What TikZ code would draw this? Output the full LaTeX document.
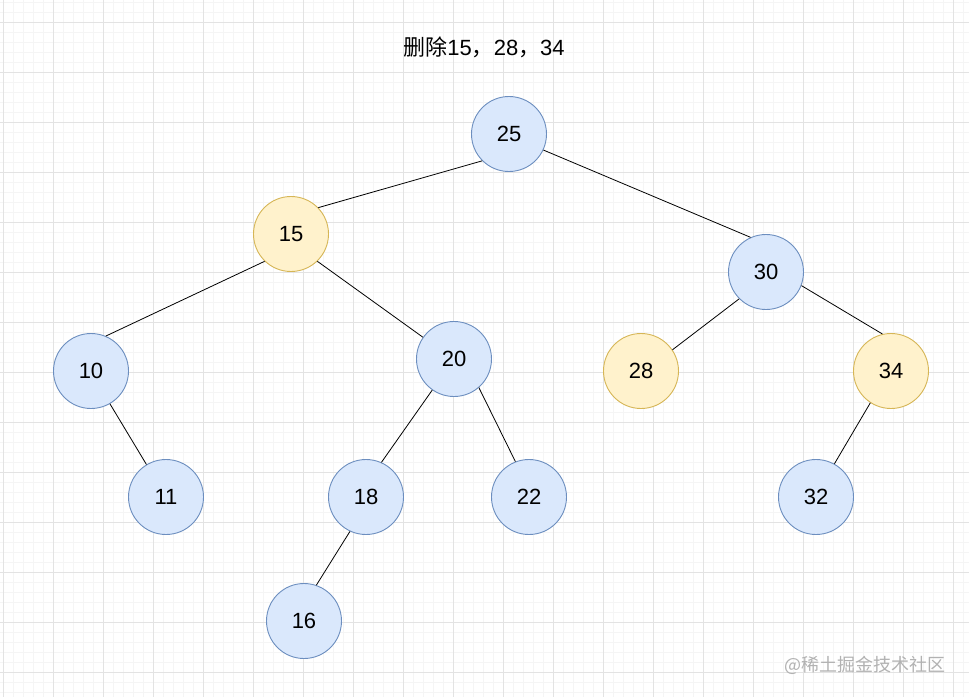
\documentclass[tikz,border=0pt]{standalone}
\usepackage{fontspec}
\setmainfont{Liberation Sans}
\newfontfamily\cjk{Noto Sans CJK SC}
\definecolor{bluefill}{HTML}{DAE8FC}
\definecolor{bluedraw}{HTML}{6C8EBF}
\definecolor{yellowfill}{HTML}{FFF2CC}
\definecolor{yellowdraw}{HTML}{D6B656}
\tikzset{
  keep/.style={circle, draw=bluedraw, fill=bluefill, line width=0.9pt,
    minimum size=75pt, inner sep=0pt, font=\fontsize{22}{26}\selectfont},
  del/.style={keep, draw=yellowdraw, fill=yellowfill},
  minor/.style={line width=0.5pt, black!4},
  major/.style={line width=0.8pt, black!11},
  edge/.style={line width=0.8pt, black}
}
\begin{document}
\begin{tikzpicture}[x=1pt, y=-1pt]
  \useasboundingbox (0,0) rectangle (969,697);
  \fill[white] (0,0) rectangle (969,697);
  % --- grille ---
  \foreach \x in {3,13,...,963}{ \draw[minor] (\x,0) -- (\x,697); }
  \foreach \y in {2,12,...,692}{ \draw[minor] (0,\y) -- (969,\y); }
  \foreach \x in {3,53,...,953}{ \draw[major] (\x,0) -- (\x,697); }
  \foreach \y in {22,72,...,672}{ \draw[major] (0,\y) -- (969,\y); }
  % --- titre ---
  \node[font=\fontsize{22}{26}\selectfont] (title) at (484,47)
    {{\cjk 删除}15{\cjk ，}28{\cjk ，}34};
  % --- noeuds ---
  \foreach \n/\s/\x/\y in {25/keep/509/134, 15/del/291/234, 30/keep/766/272,
    10/keep/91/371, 20/keep/454/359, 28/del/641/371, 34/del/891/371,
    11/keep/166/497, 18/keep/366/497, 22/keep/529/497, 32/keep/816/497,
    16/keep/304/621}{
    \node[\s] (n\n) at (\x,\y) {\n};
  }
  % --- aretes (points d'attache) ---
  \foreach \a/\p/\b/\q in {25/-135/15/44, 25/-25/30/114, 15/-134/10/67,
    15/-46/20/145, 30/-135/28/34, 30/-21/34/103, 10/-60/11/121,
    20/-125/18/66, 20/-49/22/111, 34/-123/32/61, 18/-115/16/71}{
    \draw[edge] (n\a.\p) -- (n\b.\q);
  }
  % --- filigrane ---
  \node[font=\cjk\fontsize{18}{21}\selectfont, text=black!30, anchor=east]
    (mark) at (949,665) {@稀土掘金技术社区};
\end{tikzpicture}
\end{document}
